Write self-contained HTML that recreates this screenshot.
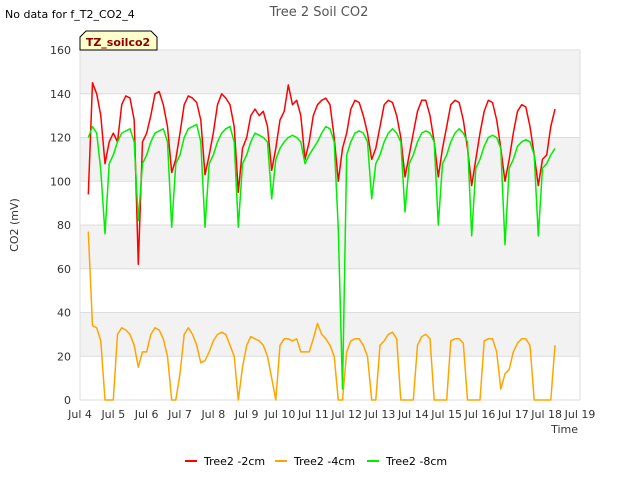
<!DOCTYPE html>
<html><head><meta charset="utf-8"><style>
body{margin:0;background:#fff;font-family:"Liberation Sans",sans-serif;}
svg text{font-family:"DejaVu Sans","Liberation Sans",sans-serif;}
</style></head><body>
<svg id="chart" width="640" height="480" xmlns="http://www.w3.org/2000/svg">
<text x="5" y="18" font-size="11" fill="#000">No data for f_T2_CO2_4</text>
<text x="319" y="16" font-size="13" fill="#555" text-anchor="middle">Tree 2 Soil CO2</text>
<g id="plot"></g>
<text x="18" y="225" font-size="11" fill="#333" text-anchor="middle" transform="rotate(-90 18 225)">CO2 (mV)</text>
<text x="578" y="433" font-size="11" fill="#333" text-anchor="end">Time</text>
<g>
<path d="M80,50 L80,37 L86,31 L151,31 L157,37 L157,50 Z" fill="#ffffcc" stroke="#000" stroke-width="1"/>
<text x="118" y="46" font-size="11" font-weight="bold" fill="#8b0000" text-anchor="middle">TZ_soilco2</text>
</g>
<g id="legend"></g>
</svg>
<script>
const tStart = 4.25, tStep = 0.125;
const red = [94,145,140,130,108,118,
122,118,135,139,138,128,62,118,
122,130,140,141,135,125,104,110,
122,135,139,138,136,128,103,112,
122,135,140,138,135,125,95,115,
120,130,133,130,132,125,105,115,
128,132,144,135,137,130,110,118,
130,135,137,138,135,120,100,115,
122,133,137,136,130,122,110,115,
125,135,137,136,130,120,102,112,
122,132,137,137,130,118,102,115,
125,135,137,136,128,115,98,110,
122,132,137,136,128,115,100,110,
122,132,135,134,125,112,98,110,
112,125,133];
const green = [120,125,122,105,76,108,
112,118,122,123,124,118,82,108,
112,118,122,123,124,118,79,108,
112,120,124,125,126,118,79,108,
112,118,122,124,125,118,79,108,
112,118,122,121,120,118,92,110,
115,118,120,121,120,118,108,112,
115,118,122,125,124,118,78,5,
112,118,122,123,122,118,92,108,
112,118,122,124,122,118,86,108,
112,118,122,123,122,118,80,108,
112,118,122,124,122,118,75,106,
110,116,120,121,120,115,71,106,
110,116,118,119,118,112,75,106,
108,112,115];
const orange = [77,34,33,27,0,0,
0,30,33,32,30,25,15,22,
22,30,33,32,28,20,0,0,
12,30,33,30,25,17,18,22,
27,30,31,30,25,20,0,15,
25,29,28,27,25,20,10,0,
25,28,28,27,28,22,22,22,
28,35,30,28,25,20,0,0,
22,27,28,28,25,20,0,0,
25,27,30,31,28,0,0,0,
0,25,29,30,28,0,0,0,
0,27,28,28,26,0,0,0,
0,27,28,28,22,5,12,14,
22,26,28,28,25,0,0,0,
0,0,25];
const yTicks = [0,20,40,60,80,100,120,140,160];
const xTicks = [4,5,6,7,8,9,10,11,12,13,14,15,16,17,18,19];
const seriesNames = ["Tree2 -2cm","Tree2 -4cm","Tree2 -8cm"];
const seriesColors = ["#ff0000","#ffa500","#00ee00"];

const NS="http://www.w3.org/2000/svg";
const L=80,R=580,T=50,B=400;
const xs=d=>L+(d-4)/15*(R-L);
const ys=v=>B-v/160*(B-T);
const plot=document.getElementById('plot');
function mk(tag,attrs,parent){const e=document.createElementNS(NS,tag);for(const k in attrs)e.setAttribute(k,attrs[k]);parent.appendChild(e);return e;}
for(let i=0;i<yTicks.length-1;i++){
  const band=mk('rect',{x:L,y:ys(yTicks[i+1]),width:R-L,height:ys(yTicks[i])-ys(yTicks[i+1]),fill:(i%2===1)?'#f2f2f2':'#ffffff'},plot);
  
  
}
yTicks.forEach(v=>{
  const g=mk('line',{x1:L,x2:R,y1:ys(v),y2:ys(v),stroke:'#dddddd','stroke-width':1},plot);
  
  
  const t=mk('text',{x:L-9,y:ys(v)+4,'font-size':11,fill:'#333','text-anchor':'end'},plot);
  t.textContent=v;
  
  
});
mk('line',{x1:L,x2:L,y1:T,y2:B,stroke:'#dddddd'},plot);
mk('line',{x1:R,x2:R,y1:T,y2:B,stroke:'#dddddd'},plot);
xTicks.forEach(d=>{
  const t=mk('text',{x:xs(d),y:418,'font-size':11,fill:'#333','text-anchor':'middle'},plot);
  t.textContent='Jul '+d;
  
  
});
[red,orange,green].forEach((arr,k)=>{
  const idx=[0,1,2][k];
  const pts=arr.map((v,i)=>xs(tStart+i*tStep).toFixed(1)+','+ys(v).toFixed(1)).join(' ');
  const p=mk('polyline',{points:pts,fill:'none',stroke:seriesColors[idx],'stroke-width':1.5,'stroke-linejoin':'round'},plot);
  
  
});
const leg=document.getElementById('legend');
const lx=[185,275,367];
seriesNames.forEach((n,i)=>{
  const l=mk('line',{x1:lx[i],x2:lx[i]+12,y1:461,y2:461,stroke:seriesColors[i],'stroke-width':2},leg);
  
  
  const t=mk('text',{x:lx[i]+19,y:465,'font-size':11,fill:'#000'},leg);
  t.textContent=n;
  
  
});
</script>
</body></html>
